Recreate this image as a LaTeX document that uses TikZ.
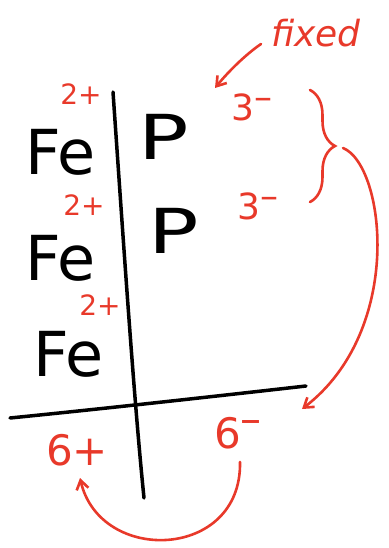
\documentclass[tikz,border=0pt]{standalone}
\usepackage{fontspec}
\setmainfont{DejaVu Sans}
\usetikzlibrary{arrows.meta,decorations.pathreplacing}
\definecolor{ink}{HTML}{E8392A}
\begin{document}
\begin{tikzpicture}[x=1pt,y=-1pt,
  elem/.style={font=\fontsize{62}{62}\selectfont, inner sep=0pt, anchor=base west},
  pelem/.style={elem, xscale=1.35},
  chg/.style={text=ink, inner sep=0pt, font=\fontsize{#1}{#1}\selectfont},
  blk/.style={line width=3.5pt, line cap=round, black},
  redln/.style={line width=2.6pt, line cap=round, ink},
  redarr/.style={redln, -{Straight Barb[length=9pt,width=12pt,line width=2.6pt]}}
]
\useasboundingbox (0,0) rectangle (388,548);

% table lines
\coordinate (vtop) at (113,92);
\coordinate (vbot) at (144,498);
\coordinate (hleft) at (10,418);
\coordinate (hright) at (306,386);
\draw[blk] (vtop) .. controls (124,250) and (134,400) .. (vbot);
\draw[blk] (hleft) .. controls (100,409) and (200,398) .. (hright);

% elements
\node[elem] (fe1) at (25,175) {Fe};
\node[elem] (fe2) at (25,280) {Fe};
\node[elem] (fe3) at (33,376) {Fe};
\node[pelem] (p1) at (138,160) {P};
\node[pelem] (p2) at (148,253) {P};

% charges
\node[chg=28] (c1) at (81,94) {2+};
\node[chg=28] (c2) at (84,205) {2+};
\node[chg=28] (c3) at (100,305) {2+};
\node[chg=36] (a1) at (252,107) {3\raisebox{0.3em}{–}};
\node[chg=36] (a2) at (258,206) {3\raisebox{0.3em}{–}};
\node[chg=42] (tplus) at (77,450) {6+};
\node[chg=42] (tminus) at (238,433) {6\raisebox{0.35em}{–}};
\node[chg=36, font=\fontsize{36}{36}\selectfont\itshape] (fixedlbl) at (316,33) {fixed};

% arrow from "fixed"
\coordinate (ftail) at (261,44);
\coordinate (ftip) at (215,88);
\draw[redarr] (ftail) .. controls (245,55) and (228,72) .. (ftip);

% brace
\coordinate (btop) at (310,90);
\coordinate (bbot) at (310,202);
\draw[redln, decorate, decoration={brace, amplitude=25pt}] (btop) -- (bbot);

% arrow from brace to horizontal line
\coordinate (bstart) at (343,148);
\coordinate (htip) at (302,409);
\draw[redarr] (bstart) .. controls (385,165) and (405,330) .. (htip);

% arrow from 6- to 6+
\coordinate (mstart) at (240,462);
\coordinate (ptip) at (80,478);
\draw[redarr] (mstart) .. controls (242,560) and (100,565) .. (ptip);
\end{tikzpicture}
\end{document}
